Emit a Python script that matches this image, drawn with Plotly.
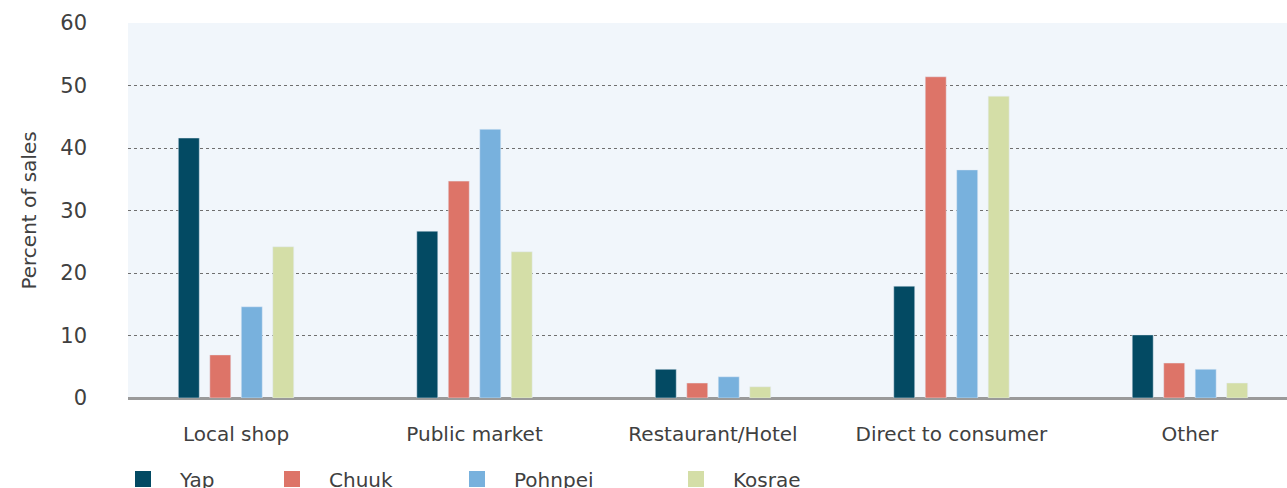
import plotly.graph_objects as go

# Share of sales by outlet, per state
outlets = ["Local shop", "Public market", "Restaurant/Hotel", "Direct to consumer", "Other"]
yap = [41.6, 26.7, 4.6, 17.9, 10.1]
chuuk = [6.9, 34.7, 2.4, 51.4, 5.6]
pohnpei = [14.6, 43.0, 3.4, 36.5, 4.6]
kosrae = [24.2, 23.4, 1.8, 48.3, 2.4]

states = ["Yap", "Chuuk", "Pohnpei", "Kosrae"]
colors = ["#034A63", "#DD7468", "#78B1DD", "#D4DEA7"]
series = [yap, chuuk, pohnpei, kosrae]

font = "DejaVu Sans, sans-serif"
txt = "#404040"

fig = go.Figure()
for idx, (name, vals, col) in enumerate(zip(states, series, colors)):
    fig.add_trace(go.Bar(x=outlets, y=vals, name=name, marker_color=col,
                         showlegend=False))
    # legend-only swatch so the square can be larger than the bar icon
    fig.add_trace(go.Scatter(x=[None], y=[None], mode="markers", name=name,
                             marker=dict(symbol="square", size=16, color=col),
                             legend="legend" if idx == 0 else f"legend{idx + 1}"))

legend_x = [106, 255, 440, 659]
leg = {}
for idx, lx in enumerate(legend_x):
    key = "legend" if idx == 0 else f"legend{idx + 1}"
    leg[key] = dict(xref="container", yref="container", x=lx / 1287, y=9 / 488,
                    xanchor="left", yanchor="middle", orientation="h",
                    itemwidth=64, bgcolor="rgba(0,0,0,0)",
                    font=dict(family=font, size=20, color=txt))

fig.update_layout(
    width=1287, height=488,
    margin=dict(l=128, r=0, t=23, b=90),
    paper_bgcolor="white", plot_bgcolor="#F1F6FB",
    barmode="group", bargap=0.472, bargroupgap=0.333,
    font=dict(family=font, color=txt),
    xaxis=dict(range=[-0.453, 4.407], showgrid=False, showline=False, zeroline=False,
               tickfont=dict(size=20, color=txt), ticks="", ticklabelstandoff=22),
    yaxis=dict(range=[0, 60], dtick=10, showgrid=True, gridcolor="#6f6f6f",
               griddash="dot", gridwidth=1, zeroline=True, zerolinecolor="#9a9a9a",
               zerolinewidth=3, showline=False, ticks="",
               tickfont=dict(size=21, color=txt), ticklabelstandoff=40,
               title=dict(text="Percent of sales", font=dict(size=20, color=txt),
                          standoff=18)),
    **leg,
)

fig.write_html("out.html", config={"displayModeBar": False},
               post_script="document.body.style.margin='0';")
